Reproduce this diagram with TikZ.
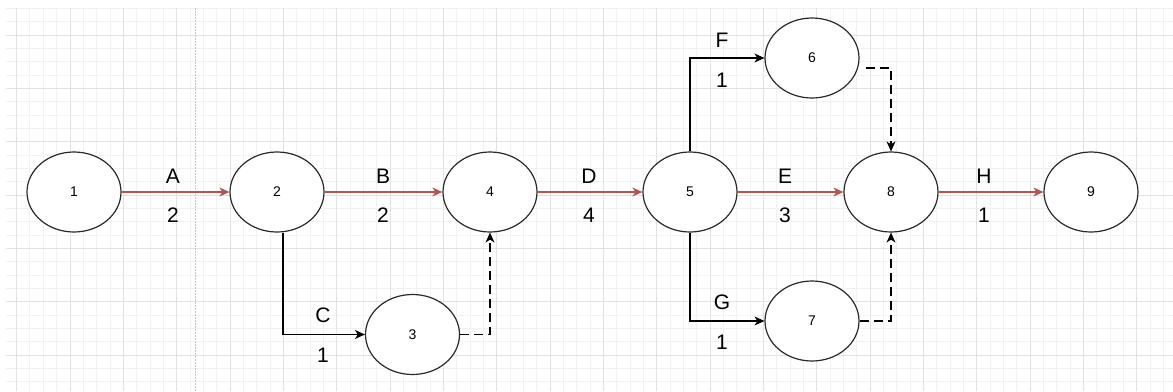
\documentclass[tikz,border=0pt]{standalone}
\usepackage{fontspec}
\setmainfont{Liberation Sans}
\usetikzlibrary{arrows.meta,shapes.geometric}
\definecolor{drred}{HTML}{B85450}
\definecolor{minorg}{HTML}{F1F1F1}
\definecolor{majorg}{HTML}{E2E2E2}
\definecolor{strokeg}{HTML}{2A2A2A}
\tikzset{
  ev/.style={ellipse, draw=strokeg, fill=white, line width=1.2pt, minimum width=94pt, minimum height=80pt, inner sep=0pt, font=\fontsize{14}{16}\selectfont},
  tip/.style={-{Stealth[length=10pt,width=9pt,inset=3pt]}},
  crit/.style={tip, draw=drred, line width=1.2pt},
  act/.style={tip, draw=black, line width=1.2pt},
  dummy/.style={tip, draw=black, line width=1.2pt, dash pattern=on 9pt off 5pt},
  lbl/.style={font=\fontsize{21}{24}\selectfont, inner sep=0pt, text=black},
}
\begin{document}
\begin{tikzpicture}[x=1pt,y=-1pt]
\useasboundingbox (0,0) rectangle (1173,391);
\fill[white] (0,0) rectangle (1173,391);
% grid
\foreach \i in {1,...,87} {
  \pgfmathsetmacro\xx{3.333+13.3333*\i}
  \draw[minorg, line width=1pt] (\xx,8) -- (\xx,391);
}
\foreach \j in {0,...,28} {
  \pgfmathsetmacro\yy{8.333+13.3333*\j}
  \draw[minorg, line width=1pt] (6,\yy) -- (1173,\yy);
}
\foreach \i in {1,5,...,85} {
  \pgfmathsetmacro\xx{3.333+13.3333*\i}
  \draw[majorg, line width=1pt] (\xx,8) -- (\xx,391);
}
\foreach \j in {2,6,...,26} {
  \pgfmathsetmacro\yy{8.333+13.3333*\j}
  \draw[majorg, line width=1pt] (6,\yy) -- (1173,\yy);
}
\draw[black!22, line width=0.8pt, dash pattern=on 1.5pt off 1.5pt] (195,8) -- (195,391);

% nodes
\node[ev] (n1) at (74,192) {1};
\node[ev] (n2) at (277,192) {2};
\node[ev] (n4) at (490,192) {4};
\node[ev] (n5) at (690,192) {5};
\node[ev] (n8) at (891,192) {8};
\node[ev] (n9) at (1091,192) {9};
\node[ev] (n3) at (412.5,334.5) {3};
\node[ev] (n6) at (812,58) {6};
\node[ev] (n7) at (812,321) {7};

% critical path
\draw[crit] (n1) -- (n2);
\draw[crit] (n2) -- (n4);
\draw[crit] (n4) -- (n5);
\draw[crit] (n5) -- (n8);
\draw[crit] (n8) -- (n9);

% other activities
\coordinate (s2) at ([xshift=6pt]n2.south);
\draw[act] (s2) |- (n3);
\draw[act] (n5.north) |- (n6);
\draw[act] (n5.south) |- (n7);

% dummies
\coordinate (s6) at (866,68);
\draw[dummy] (n3) -| (n8.south -| n4.south);
\draw[dummy] (s6) -| (n8.north);
\draw[dummy] (n7) -| (n8.south);

% labels
\node[lbl] (lA) at (173,176) {A};
\node[lbl] (dA) at (173,215) {2};
\node[lbl] (lB) at (383,176) {B};
\node[lbl] (dB) at (383,215) {2};
\node[lbl] (lD) at (589,176) {D};
\node[lbl] (dD) at (589,215) {4};
\node[lbl] (lE) at (785,176) {E};
\node[lbl] (dE) at (785,215) {3};
\node[lbl] (lH) at (984,176) {H};
\node[lbl] (dH) at (984,215) {1};
\node[lbl] (lC) at (323,315) {C};
\node[lbl] (dC) at (323,355) {1};
\node[lbl] (lF) at (722,40) {F};
\node[lbl] (dF) at (722,80) {1};
\node[lbl] (lG) at (722,302) {G};
\node[lbl] (dG) at (722,342) {1};
\end{tikzpicture}
\end{document}
